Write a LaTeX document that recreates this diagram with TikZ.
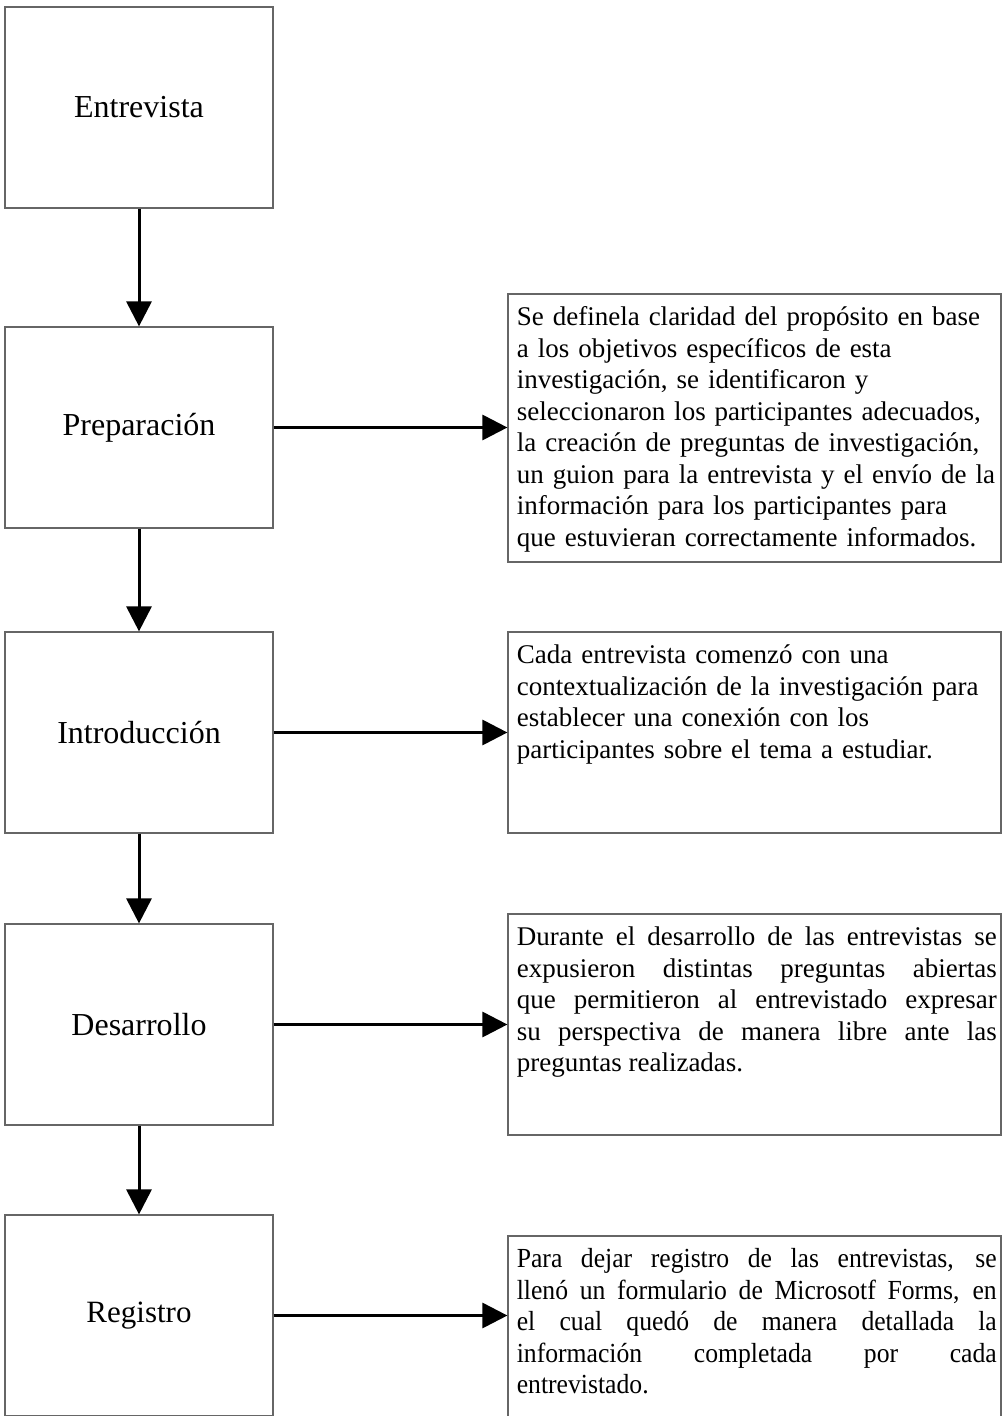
\documentclass[tikz,border=0pt]{standalone}
\usepackage{fontspec}
\setmainfont{Liberation Serif}
\newfontfamily\angosta[FakeStretch=0.93]{Liberation Serif}
\usetikzlibrary{arrows.meta, positioning}

\begin{document}
\begin{tikzpicture}[
  x=0.5pt, y=-0.5pt,
  paso/.style={rectangle, draw=black!60, line width=0.6pt, inner sep=0pt,
               minimum width=134pt, minimum height=100.5pt,
               font=\fontsize{16}{19}\selectfont},
  caja/.style={rectangle, draw=black!60, line width=0.6pt, inner sep=0pt,
               minimum width=246.5pt},
  txt/.style={anchor=north west, inner sep=0pt, text width=240pt,
              font=\fontsize{13.5}{15.75}\selectfont},
  flecha/.style={-{Triangle[length=12.5pt, width=12.5pt]}, line width=1.5pt}
]
\useasboundingbox (0,0) rectangle (1003,1416);
\clip (0,0) rectangle (1003,1416);

% Pasos de la entrevista
\node[paso] (ent) at (139, 107.5)  {Entrevista};
\node[paso] (pre) at (139, 427.5)  {Preparación};
\node[paso] (int) at (139, 732.5)  {Introducción};
\node[paso] (des) at (139, 1024.5) {Desarrollo};
\node[paso, font=\fontsize{15.5}{19}\selectfont] (reg) at (139, 1315.5) {Registro};

% Cajas de descripcion
\node[caja, minimum height=134pt]   (dpre) at (754.5, 428)    {};
\node[caja, minimum height=100.5pt] (dint) at (754.5, 732.5)  {};
\node[caja, minimum height=110.5pt] (ddes) at (754.5, 1024.5) {};
\node[caja, minimum height=112pt]   (dreg) at (754.5, 1348)   {};

\node[txt, align=left] (tpre) at ([xshift=4.5pt, yshift=-5pt]dpre.north west)
  {\strut Se definela claridad del propósito en base\\
   a los objetivos específicos de esta\\
   investigación, se identificaron y\\
   seleccionaron los participantes adecuados,\\
   la creación de preguntas de investigación,\\
   un guion para la entrevista y el envío de la\\
   información para los participantes para\\
   que estuvieran correctamente informados.};
\node[txt, align=left] (tint) at ([xshift=4.5pt, yshift=-5pt]dint.north west)
  {\strut Cada entrevista comenzó con una\\
   contextualización de la investigación para\\
   establecer una conexión con los\\
   participantes sobre el tema a estudiar.};
\node[txt, align=justify] (tdes) at ([xshift=4.5pt, yshift=-5pt]ddes.north west)
  {\strut Durante el desarrollo de las entrevistas se\linebreak
   expusieron distintas preguntas abiertas\linebreak
   que permitieron al entrevistado expresar\linebreak
   su perspectiva de manera libre ante las\linebreak
   preguntas realizadas.};
\node[txt, align=justify, font=\fontsize{13.8}{15.75}\angosta] (treg)
  at ([xshift=4.5pt, yshift=-5pt]dreg.north west)
  {\strut Para dejar registro de las entrevistas, se\linebreak
   llenó un formulario de Microsotf Forms, en\linebreak
   el cual quedó de manera detallada la\linebreak
   información completada por cada\linebreak
   entrevistado.};

% Flechas
\draw[flecha] (ent) -- (pre);
\draw[flecha] (pre) -- (int);
\draw[flecha] (int) -- (des);
\draw[flecha] (des) -- (reg);
\draw[flecha] (pre.east) -- (pre.east -| dpre.west);
\draw[flecha] (int.east) -- (int.east -| dint.west);
\draw[flecha] (des.east) -- (des.east -| ddes.west);
\draw[flecha] (reg.east) -- (reg.east -| dreg.west);
\end{tikzpicture}
\end{document}
